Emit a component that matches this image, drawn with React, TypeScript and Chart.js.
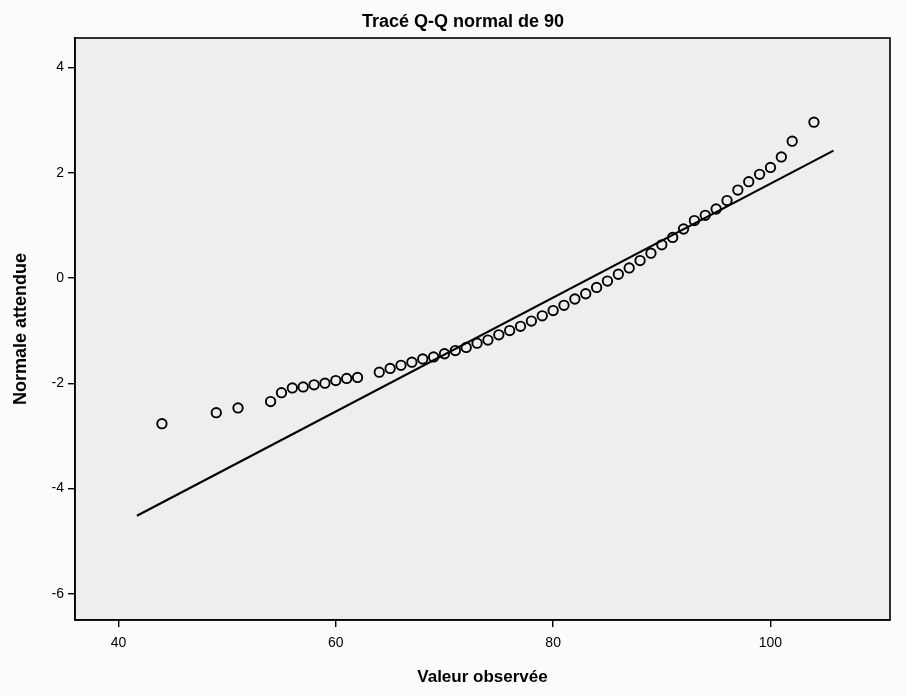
import React, { useEffect, useRef } from "react";
import { Chart, registerables } from "chart.js";
Chart.register(...registerables);

const chartTitle = "Tracé Q-Q normal de 90";
const xTitle = "Valeur observée";
const yTitle = "Normale attendue";

const observed = [
  44, 49, 51, 54, 55, 56, 57, 58, 59, 60, 61, 62,
  64, 65, 66, 67, 68, 69, 70, 71, 72, 73, 74, 75, 76, 77, 78, 79, 80,
  81, 82, 83, 84, 85, 86, 87, 88, 89, 90, 91, 92, 93, 94, 95, 96, 97,
  98, 99, 100, 101, 102, 104,
];
const expectedNormal = [
  -2.77, -2.56, -2.47, -2.35, -2.18, -2.09, -2.07, -2.03, -2.0, -1.95, -1.91, -1.89,
  -1.79, -1.72, -1.66, -1.6, -1.54, -1.5, -1.44, -1.38, -1.32, -1.24, -1.18, -1.08,
  -1.0, -0.92, -0.82, -0.72, -0.62, -0.52, -0.4, -0.3, -0.18, -0.06, 0.07, 0.19,
  0.33, 0.47, 0.63, 0.77, 0.93, 1.09, 1.19, 1.31, 1.47, 1.67, 1.83, 1.97, 2.1,
  2.3, 2.6, 2.96,
];
const refLineX = [41.7, 105.8];
const refLineY = [-4.52, 2.42];
const xTicks = [40, 60, 80, 100];
const yTicks = [-6, -4, -2, 0, 2, 4];

const FONT = "'Liberation Sans', Arial, sans-serif";

export default function App() {
  const ref = useRef<HTMLCanvasElement | null>(null);
  useEffect(() => {
    if (!ref.current) return;
    const framePlugin = {
      id: "frame",
      beforeDraw(chart: any) {
        const { ctx, chartArea: a } = chart;
        ctx.save();
        ctx.fillStyle = "#fbfbfb";
        ctx.fillRect(0, 0, chart.width, chart.height);
        ctx.fillStyle = "#eeeeee";
        ctx.fillRect(a.left, a.top, a.right - a.left, a.bottom - a.top);
        ctx.restore();
      },
      afterDraw(chart: any) {
        const { ctx, chartArea: a } = chart;
        ctx.save();
        ctx.strokeStyle = "#000";
        ctx.lineWidth = 1.6;
        ctx.strokeRect(a.left, a.top, a.right - a.left, a.bottom - a.top);
        ctx.fillStyle = "#000";
        ctx.font = `bold 18px ${FONT}`;
        ctx.textAlign = "center";
        ctx.textBaseline = "middle";
        ctx.fillText(chartTitle, 463, 22);
        ctx.restore();
      },
    };
    const chart = new Chart(ref.current, {
      type: "scatter",
      data: {
        datasets: [
          {
            label: "Observed",
            data: observed.map((x, i) => ({ x, y: expectedNormal[i] })),
            pointStyle: "circle",
            pointRadius: 4.7,
            pointBorderWidth: 1.9,
            borderColor: "#000",
            backgroundColor: "rgba(0,0,0,0)",
            showLine: false,
          },
          {
            label: "Line",
            data: refLineX.map((x, i) => ({ x, y: refLineY[i] })),
            showLine: true,
            pointRadius: 0,
            borderColor: "#000",
            borderWidth: 2.2,
            backgroundColor: "#000",
          },
        ],
      },
      options: {
        responsive: false,
        animation: false,
        devicePixelRatio: 1,
        layout: { padding: { left: 0, right: 16, top: 38, bottom: 0 } },
        plugins: {
          legend: { display: false },
          title: { display: false },
          tooltip: { enabled: false },
        },
        scales: {
          x: {
            type: "linear",
            min: 36,
            max: 111,
            afterFit: (s: any) => { s.height = 76; },
            afterBuildTicks: (s: any) => { s.ticks = xTicks.map((v) => ({ value: v })); },
            ticks: { color: "#000", font: { family: FONT, size: 14 }, padding: 8, maxRotation: 0 },
            grid: { drawOnChartArea: false, drawTicks: true, tickLength: 7, color: "#000", lineWidth: 1.4 },
            border: { display: true, color: "#000", width: 1.6 },
            title: {
              display: true,
              text: xTitle,
              color: "#000",
              font: { family: FONT, size: 17, weight: "bold" },
              padding: { top: 0, bottom: 8 },
            },
          },
          y: {
            type: "linear",
            min: -6.5,
            max: 4.56,
            afterFit: (s: any) => { s.width = 75; },
            afterBuildTicks: (s: any) => { s.ticks = yTicks.map((v) => ({ value: v })); },
            ticks: { color: "#000", font: { family: FONT, size: 14 }, padding: 4 },
            grid: { drawOnChartArea: false, drawTicks: true, tickLength: 7, color: "#000", lineWidth: 1.4 },
            border: { display: true, color: "#000", width: 1.6 },
            title: {
              display: true,
              text: yTitle,
              color: "#000",
              font: { family: FONT, size: 18, weight: "bold" },
              padding: { top: 10, bottom: 0 },
            },
          },
        },
      },
      plugins: [framePlugin],
    });
    return () => chart.destroy();
  }, []);
  return (
    <div style={{ position: "fixed", left: 0, top: 0, width: 906, height: 696 }}>
      <canvas ref={ref} width={906} height={696} style={{ width: 906, height: 696, display: "block" }} />
    </div>
  );
}
